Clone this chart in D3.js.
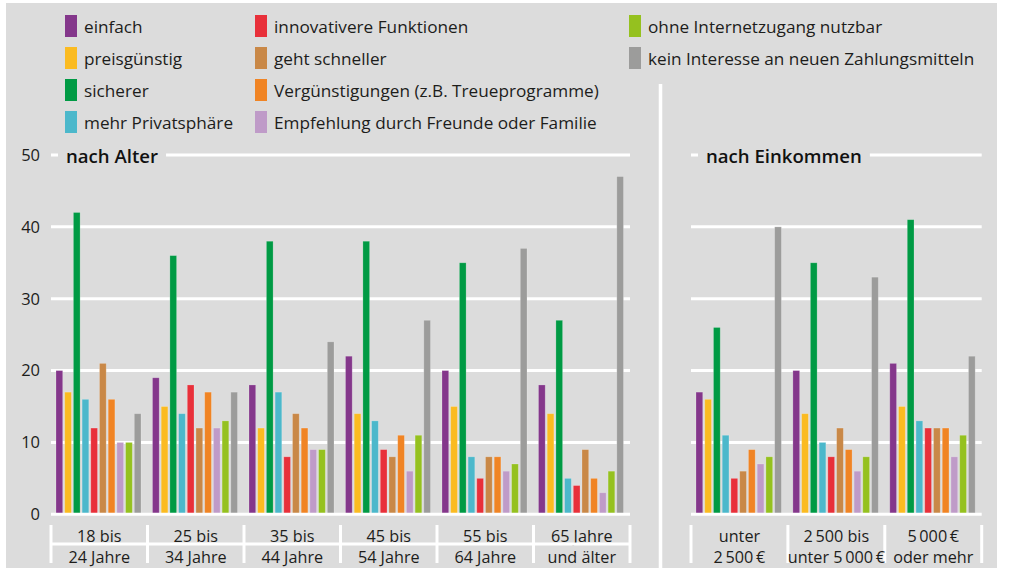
<!DOCTYPE html>
<html>
<head>
<meta charset="utf-8">
<script src="https://cdn.jsdelivr.net/npm/d3@7"></script>
<style>
  body { margin: 0; background: #fff; }
  svg { display: block; font-family: 'Open Sans', sans-serif; }
</style>
</head>
<body>
<div id="chart"></div>
<script>
// series (legend order == bar order inside a group)
const seriesNames = [
  'einfach', 'preisgünstig', 'sicherer', 'mehr Privatsphäre',
  'innovativere Funktionen', 'geht schneller', 'Vergünstigungen (z.B. Treueprogramme)',
  'Empfehlung durch Freunde oder Familie',
  'ohne Internetzugang nutzbar', 'kein Interesse an neuen Zahlungsmitteln'
]
const seriesColors = [
  '#84378b', '#fbbb21', '#009a44', '#4cb8cb', '#e8303a',
  '#c98847', '#f08424', '#bf9bc8', '#95c11f', '#9c9c9b'
]

// nach Alter
const ageGroups = [
  ['18 bis', '24 Jahre'], ['25 bis', '34 Jahre'], ['35 bis', '44 Jahre'],
  ['45 bis', '54 Jahre'], ['55 bis', '64 Jahre'], ['65 Jahre', 'und älter']
]
const ageValues = [
  [20, 17, 42, 16, 12, 21, 16, 10, 10, 14],
  [19, 15, 36, 14, 18, 12, 17, 12, 13, 17],
  [18, 12, 38, 17, 8, 14, 12, 9, 9, 24],
  [22, 14, 38, 13, 9, 8, 11, 6, 11, 27],
  [20, 15, 35, 8, 5, 8, 8, 6, 7, 37],
  [18, 14, 27, 5, 4, 9, 5, 3, 6, 47]
]

// nach Einkommen
const incomeGroups = [
  ['unter', '2\u2009500\u2009€'], ['2\u2009500 bis', 'unter 5\u2009000\u2009€'], ['5\u2009000\u2009€', 'oder mehr']
]
const incomeValues = [
  [17, 16, 26, 11, 5, 6, 9, 7, 8, 40],
  [20, 14, 35, 10, 8, 12, 9, 6, 8, 33],
  [21, 15, 41, 13, 12, 12, 12, 8, 11, 22]
]

const yTicks = [0, 10, 20, 30, 40, 50]

const W = 1009
const H = 568
const c_bg = '#dcdcdc'
const c_text = '#1d1d1b'

const svg = d3.select('#chart')
  .append('svg')
  .attr('width', W)
  .attr('height', H)

svg.append('rect')
  .attr('x', 6).attr('y', 3)
  .attr('width', 991).attr('height', H - 3)
  .attr('fill', c_bg)

// panel divider
svg.append('line')
  .attr('x1', 660.5).attr('x2', 660.5)
  .attr('y1', 84).attr('y2', H)
  .attr('stroke', '#fff')
  .attr('stroke-width', 3.5)

let y = d3.scaleLinear().domain([0, 50]).range([514.3, 155])

// legend
let legend = svg.append('g').classed('legend', true)
let colX = [65, 255, 629]
seriesNames.forEach((name, i) => {
  let lx = colX[Math.floor(i / 4)]
  let ly = 15 + (i % 4) * 32
  legend.append('rect')
    .attr('x', lx).attr('y', ly)
    .attr('width', 12).attr('height', 22)
    .attr('fill', seriesColors[i])
  legend.append('text')
    .attr('x', lx + 19).attr('y', ly + 11)
    .attr('dominant-baseline', 'central')
    .style('font-size', '17.2px')
    .attr('fill', c_text)
    .text(name)
})

// y labels
let yAxis = svg.append('g')
  .attr('transform', 'translate(40,0)')
  .call(d3.axisLeft(y).tickValues(yTicks).tickSize(0).tickPadding(0))
yAxis.select('.domain').remove()
yAxis.selectAll('text')
  .attr('fill', c_text)
  .style('font-size', '16.5px')
  .style('font-family', "'Open Sans', sans-serif")

function panel (x0, x1, title, groups, values) {
  let g = svg.append('g')

  let x = d3.scaleBand().domain(d3.range(groups.length)).range([x0, x1])
  let xi = d3.scaleBand().domain(d3.range(seriesNames.length))
    .range([5, x.bandwidth() - 6.5]).paddingInner(0.23)

  // gridlines (the top one is broken by the title)
  g.selectAll('.grid')
    .data(yTicks.filter((d) => d > 0))
    .enter()
    .append('line')
    .attr('x1', x0).attr('x2', x1)
    .attr('y1', (d) => y(d)).attr('y2', (d) => y(d))
    .attr('stroke', '#fff')
    .attr('stroke-width', 3)

  let t = g.append('text')
    .attr('x', x0 + 15).attr('y', y(50))
    .attr('dominant-baseline', 'central')
    .style('font-size', '18.6px')
    .style('font-weight', 600)
    .attr('fill', '#111')
    .text(title)
  let tw = t.node().getComputedTextLength()
  g.insert('rect', 'text')
    .attr('x', x0 + 7).attr('y', y(50) - 3)
    .attr('width', tw + 16).attr('height', 6)
    .attr('fill', c_bg)

  // bars
  let grp = g.selectAll('.group')
    .data(values)
    .enter()
    .append('g')
    .attr('transform', (d, i) => `translate(${x(i)},0)`)
  grp.selectAll('rect')
    .data((d) => d)
    .enter()
    .append('rect')
    .attr('x', (d, i) => xi(i))
    .attr('y', (d) => y(d))
    .attr('width', xi.bandwidth())
    .attr('height', (d) => y(0) - y(d))
    .attr('fill', (d, i) => seriesColors[i])
    .attr('stroke', 'rgba(255,255,255,0.25)')
    .attr('stroke-width', 0.8)

  // baseline
  g.append('line')
    .attr('x1', x0).attr('x2', x1)
    .attr('y1', y(0)).attr('y2', y(0))
    .attr('stroke', '#fff')
    .attr('stroke-width', 3)

  // category dividers
  let bounds = d3.range(groups.length + 1).map((i) => x0 + i * x.bandwidth())
  g.selectAll('.tick-sep')
    .data(bounds)
    .enter()
    .append('line')
    .attr('x1', (d) => d).attr('x2', (d) => d)
    .attr('y1', 525).attr('y2', 563)
    .attr('stroke', '#fff')
    .attr('stroke-width', 3)

  // category labels
  let lbl = g.selectAll('.cat')
    .data(groups)
    .enter()
    .append('text')
    .attr('text-anchor', 'middle')
    .style('font-size', '16.2px')
    .attr('fill', c_text)
  lbl.append('tspan')
    .attr('x', (d, i) => x(i) + x.bandwidth() / 2)
    .attr('y', 541.5)
    .text((d) => d[0])
  lbl.append('tspan')
    .attr('x', (d, i) => x(i) + x.bandwidth() / 2)
    .attr('y', 562.5)
    .text((d) => d[1])

  return g
}

let left = panel(51, 630, 'nach Alter', ageGroups, ageValues)
// row divider under the first label line, only under the age panel
left.append('line')
  .attr('x1', 51).attr('x2', 630)
  .attr('y1', 544).attr('y2', 544)
  .attr('stroke', '#fff')
  .attr('stroke-width', 3)

panel(691, 981.7, 'nach Einkommen', incomeGroups, incomeValues)
</script>
</body>
</html>
